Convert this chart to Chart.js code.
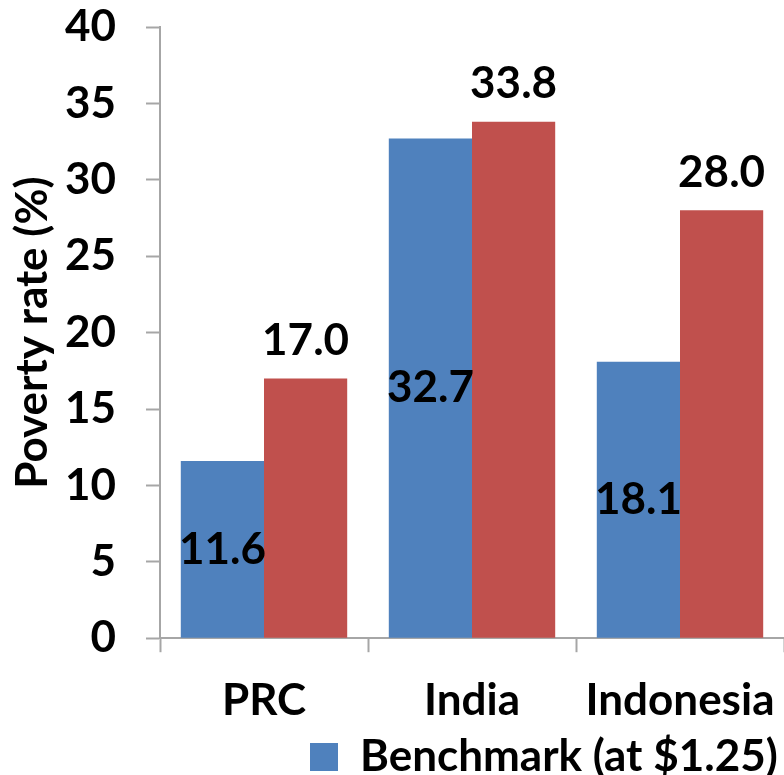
<!DOCTYPE html>
<html>
<head>
<meta charset="utf-8">
<script src="https://cdn.jsdelivr.net/npm/chart.js@4.4.1/dist/chart.umd.min.js"></script>
<style>
  html, body { margin: 0; padding: 0; background: #fff; overflow: hidden; }
  #wrap { width: 784px; height: 775px; }
</style>
</head>
<body>
<div id="wrap"><canvas id="poverty"></canvas></div>
<script>
const countries = ['PRC', 'India', 'Indonesia'];
const benchmarkRates = [11.6, 32.7, 18.1];
const alternativeRates = [17.0, 33.8, 28.0];
const yTicks = [0, 5, 10, 15, 20, 25, 30, 35, 40];

const FONT = 'Lato';
const FS = 44;
const axisGray = '#a6a6a6';

// value labels: blue ones sit mid-bar, red ones above the bar top
const barLabels = {
  id: 'barLabels',
  afterDatasetsDraw(chart) {
    const ctx = chart.ctx;
    ctx.save();
    ctx.font = `bold ${FS}px ${FONT}`;
    ctx.fillStyle = '#000';
    ctx.textAlign = 'center';
    ctx.textBaseline = 'middle';
    chart.data.datasets.forEach((ds, di) => {
      const meta = chart.getDatasetMeta(di);
      meta.data.forEach((bar, i) => {
        const txt = ds.data[i].toFixed(1);
        const y = di === 0 ? (bar.y + bar.base) / 2 : bar.y - 38;
        ctx.fillText(txt, bar.x, y);
      });
    });
    ctx.restore();
  }
};

// push the legend row to the right, below the middle of the plot
const legendShift = {
  id: 'legendShift',
  afterLayout(chart) {
    const lg = chart.legend;
    const dx = 304 - lg.left;
    lg.left += dx;
    lg.right += dx;
  }
};

new Chart(document.getElementById('poverty'), {
  type: 'bar',
  data: {
    labels: countries,
    datasets: [
      {
        label: 'Benchmark (at $1.25)',
        data: benchmarkRates,
        backgroundColor: '#4f81bd',
      },
      {
        label: 'Alternative line',
        data: alternativeRates,
        backgroundColor: '#c0504d',
      },
    ],
  },
  options: {
    responsive: true,
    maintainAspectRatio: false,
    animation: false,
    categoryPercentage: 0.8,
    barPercentage: 1,
    layout: { padding: { top: 27, right: -4, left: 0, bottom: -14 } },
    scales: {
      x: {
        afterFit: s => {
          s.paddingLeft = 0;
          s.paddingRight = 0;
          s.height -= 20;
        },
        grid: {
          drawOnChartArea: false,
          color: axisGray,
          tickLength: 14,
          tickWidth: 2,
        },
        border: { color: axisGray, width: 2 },
        ticks: {
          color: '#000',
          maxRotation: 0,
          autoSkip: false,
          font: { family: FONT, weight: 'bold', size: FS },
          padding: 22,
        },
      },
      y: {
        min: 0,
        max: 40,
        afterBuildTicks: scale => {
          scale.ticks = yTicks.map(v => ({ value: v }));
        },
        afterFit: s => {
          s.width = 160;
          s.paddingTop = 0;
          s.paddingBottom = 0;
        },
        grid: {
          drawOnChartArea: false,
          color: axisGray,
          tickLength: 14,
          tickWidth: 2,
        },
        border: { color: axisGray, width: 2 },
        ticks: {
          color: '#000',
          font: { family: FONT, weight: 'bold', size: FS },
          padding: 30,
        },
        title: {
          display: true,
          text: 'Poverty rate (%)',
          color: '#000',
          font: { family: FONT, weight: 'bold', size: FS },
          padding: { top: 6, bottom: 8 },
        },
      },
    },
    plugins: {
      legend: {
        position: 'bottom',
        align: 'start',
        labels: {
          color: '#000',
          boxWidth: 28,
          boxHeight: 28,
          padding: 6,
          font: { family: FONT, weight: 'bold', size: FS },
          filter: item => item.datasetIndex === 0,
        },
      },
      tooltip: { enabled: false },
    },
  },
  plugins: [barLabels, legendShift],
});
</script>
</body>
</html>
